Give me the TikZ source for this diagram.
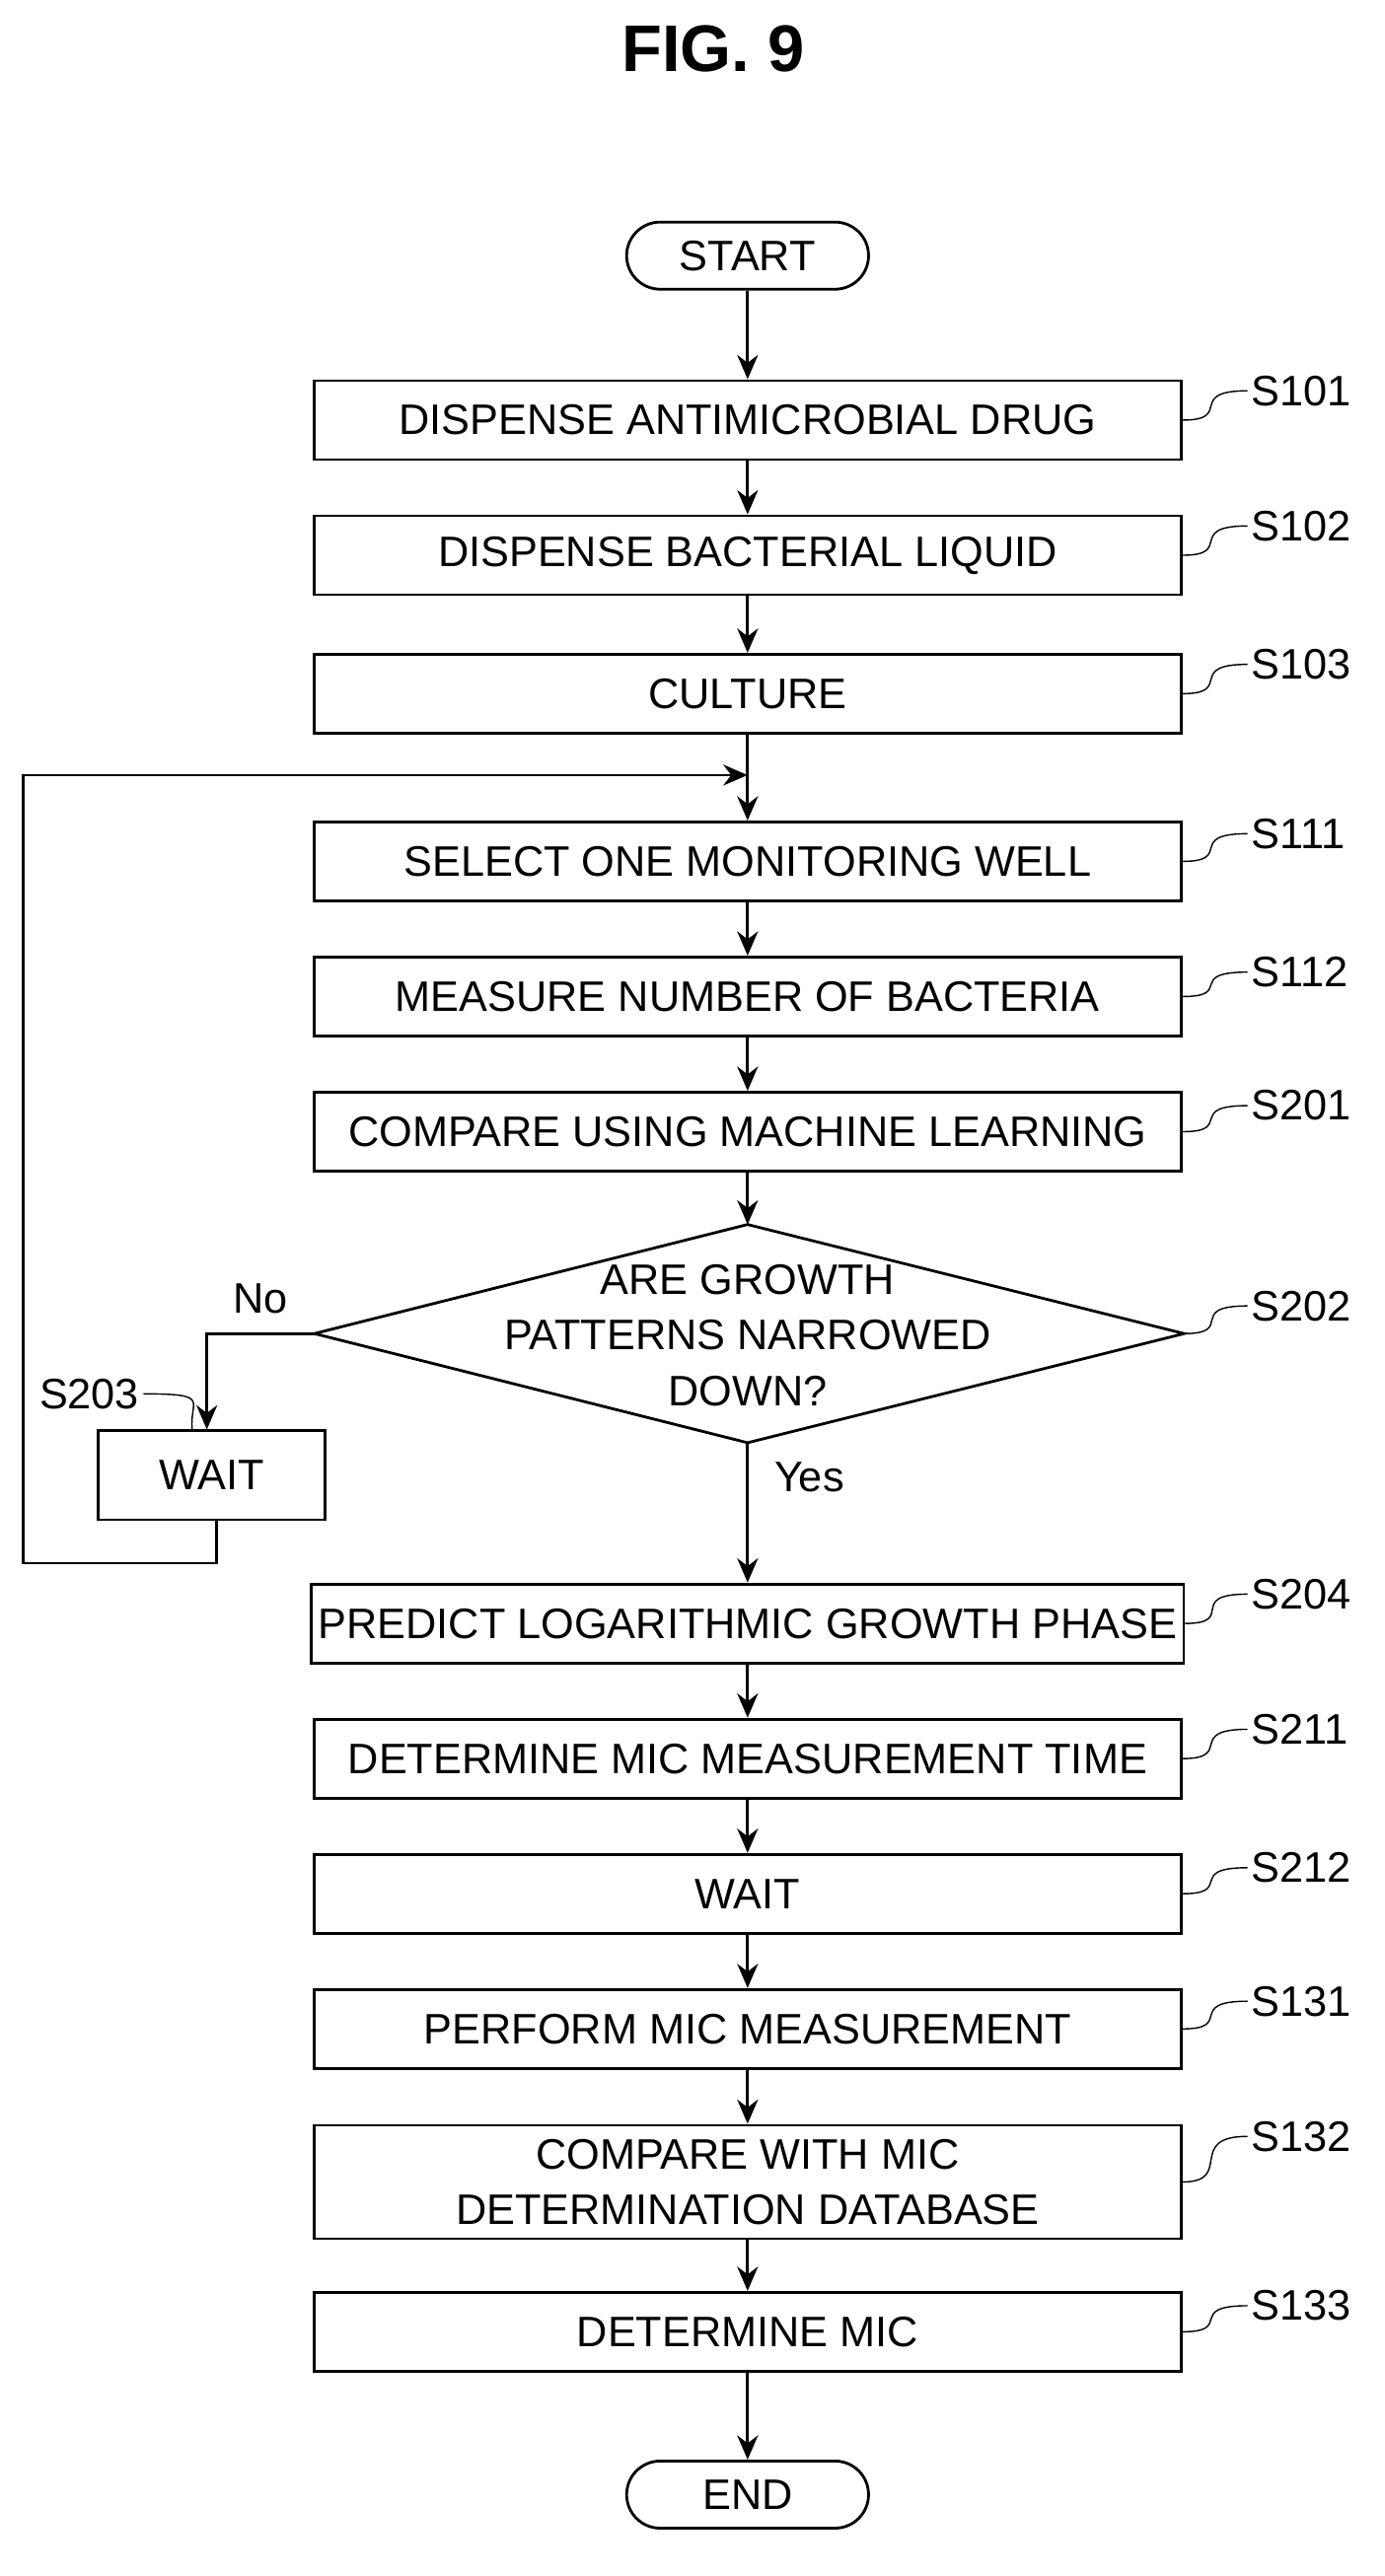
\documentclass[tikz,border=0pt]{standalone}
\usepackage{fontspec}
\setmainfont{Liberation Sans}
\usetikzlibrary{arrows.meta}
\tikzset{
  box/.style={draw,thick,minimum width=8.78cm,minimum height=0.8cm,align=center,inner sep=2pt},
  term/.style={draw,thick,rounded corners=0.34cm,minimum width=2.45cm,minimum height=0.68cm},
  lab/.style={anchor=west,inner sep=1pt},
  flow/.style={thick,-{Stealth[length=7pt,width=6pt]}}
}
\begin{document}
\begin{tikzpicture}[x=0.0165cm,y=-0.0165cm,font=\fontsize{12.3}{16}\selectfont]
\useasboundingbox (0,0) rectangle (850,1582);
\node[font=\fontsize{19}{22}\selectfont\bfseries] (title) at (438,30) {FIG. 9};
% main column
\node[term] (start) at (459,157) {START};
\node[box] (s101) at (459,258) {DISPENSE ANTIMICROBIAL DRUG};
\node[box] (s102) at (459,341) {DISPENSE BACTERIAL LIQUID};
\node[box] (s103) at (459,426) {CULTURE};
\node[box] (s111) at (459,529) {SELECT ONE MONITORING WELL};
\node[box] (s112) at (459,612) {MEASURE NUMBER OF BACTERIA};
\node[box] (s201) at (459,695) {COMPARE USING MACHINE LEARNING};
% decision
\coordinate (dtop) at (459,752);
\coordinate (dbot) at (459,886);
\coordinate (dleft) at (193,819);
\coordinate (dright) at (727,819);
\draw[thick] (dtop) -- (dright) -- (dbot) -- (dleft) -- cycle;
\node[align=center] (s202) at (459,820) {ARE GROWTH\\PATTERNS NARROWED\\DOWN?};
\node[draw,thick,minimum width=2.3cm,minimum height=0.9cm] (s203) at (130,906) {WAIT};
\node[box] (s204) at (459,997) {PREDICT LOGARITHMIC GROWTH PHASE};
\node[box] (s211) at (459,1080) {DETERMINE MIC MEASUREMENT TIME};
\node[box] (s212) at (459,1163) {WAIT};
\node[box] (s131) at (459,1246) {PERFORM MIC MEASUREMENT};
\node[box,minimum height=1.15cm] (s132) at (459,1340) {COMPARE WITH MIC\\DETERMINATION DATABASE};
\node[box] (s133) at (459,1432) {DETERMINE MIC};
\node[term] (end) at (459,1532) {END};

% step labels
\foreach \n/\t/\y in {s101/S101/240,s102/S102/323,s103/S103/408,s111/S111/512,s112/S112/597,
  s201/S201/679,s204/S204/979,s211/S211/1062,s212/S212/1147,s131/S131/1229,s132/S132/1312,s133/S133/1416}{
  \node[lab] (l\n) at (766,\y) {\t};
  \draw (\n.east) .. controls ([xshift=15]\n.east) and ([xshift=-18]l\n.west) .. (l\n.west);
}
\node[lab] (ls202) at (766,802) {S202};
\draw (dright) .. controls ([xshift=15]dright) and ([xshift=-18]ls202.west) .. (ls202.west);
\node[lab,anchor=east] (ls203) at (88,856) {S203};
\coordinate (w203) at (118,878);
\draw (ls203.east) .. controls ([xshift=20]ls203.east) and (116,860) .. (w203);

% connectors
\foreach \a/\b in {start/s101,s101/s102,s102/s103,s111/s112,s112/s201,
  s204/s211,s211/s212,s212/s131,s131/s132,s132/s133,s133/end}
  \draw[flow] (\a) -- (\b);
\coordinate (join) at (459,476);
\coordinate (turn) at (127,819);
\coordinate (back) at (133,960);
\draw[flow] (s201) -- (dtop);
\draw[thick] (s103) -- (join);
\draw[flow] (join) -- (s111);
\draw[flow] (dbot) -- node[pos=0.25,right=4pt] {Yes} (s204);
\draw[flow] (dleft) -- node[above=2pt] {No} (turn) -- (turn |- s203.north);
\draw[flow] (back |- s203.south) -- (back) -- (14,960) -- (14,476) -- (join);
\end{tikzpicture}
\end{document}
